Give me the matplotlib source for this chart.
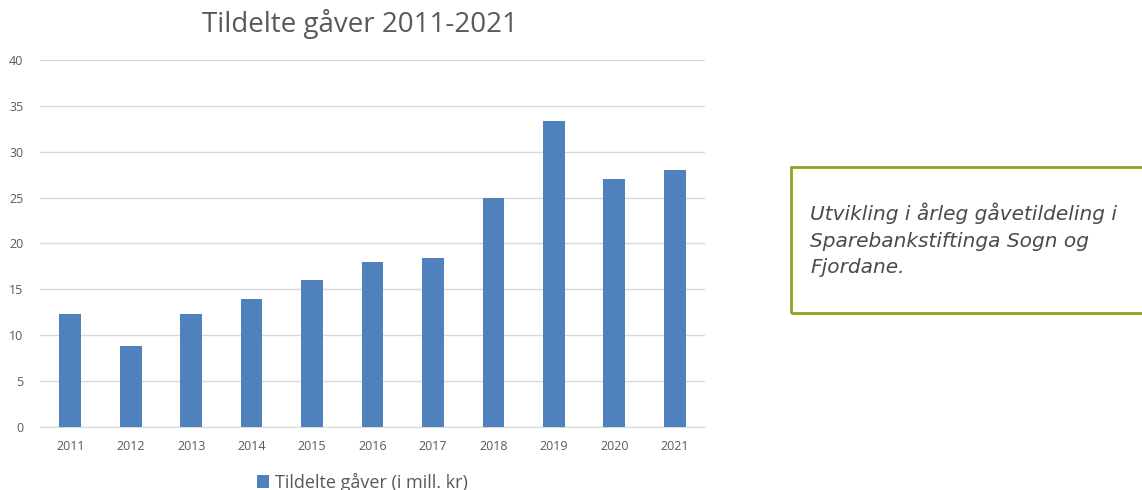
import matplotlib.pyplot as plt
from matplotlib.patches import Rectangle

years = ['2011', '2012', '2013', '2014', '2015', '2016', '2017', '2018', '2019', '2020', '2021']
gaver = [12.3, 8.8, 12.3, 14.0, 16.0, 18.0, 18.4, 25.0, 33.4, 27.0, 28.0]

plt.rcParams['font.family'] = ['Open Sans', 'DejaVu Sans']

fig = plt.figure(figsize=(11.42, 4.9), dpi=100)
ax = fig.add_axes([40 / 1142, 1 - 427 / 490, 665 / 1142, 367 / 490])

bars = ax.bar(range(len(years)), gaver, width=0.36, color='#4f81bd',
              label='Tildelte gåver (i mill. kr)', zorder=3)

ax.set_xlim(-0.5, len(years) - 0.5)
ax.set_ylim(0, 40)
ax.set_yticks(range(0, 41, 5))
ax.set_xticks(range(len(years)))
ax.set_xticklabels(years)
ax.tick_params(axis='both', length=0, labelsize=9, colors='#595959')
ax.tick_params(axis='y', pad=12)
ax.tick_params(axis='x', pad=9)
ax.grid(axis='y', color='#d9d9d9', linewidth=1, zorder=0)
for s in ['top', 'right', 'left']:
    ax.spines[s].set_visible(False)
ax.spines['bottom'].set_color('#d9d9d9')

fig.text(360 / 1142, 1 - 24 / 490, 'Tildelte gåver 2011-2021', ha='center', va='center',
         fontsize=20, color='#595959')

ax.legend(loc='center', bbox_to_anchor=(362 / 1142, 1 - 482 / 490), bbox_transform=fig.transFigure,
          frameon=False, handlelength=0.7, handleheight=0.7, handletextpad=0.3,
          prop={'size': 13}, labelcolor='#595959')

# text box to the right
fig.patches.append(Rectangle((791 / 1142, 1 - 313 / 490), 360 / 1142, 146 / 490,
                             transform=fig.transFigure, fill=False,
                             edgecolor='#8fa31e', linewidth=2))
fig.text(810 / 1142, 1 - 240 / 490,
         'Utvikling i årleg gåvetildeling i\nSparebankstiftinga Sogn og\nFjordane.',
         ha='left', va='center', fontsize=14.5, style='italic', color='#4a4a4a',
         linespacing=1.5, family=['DejaVu Sans'])

fig.savefig('out.png', dpi=100)
